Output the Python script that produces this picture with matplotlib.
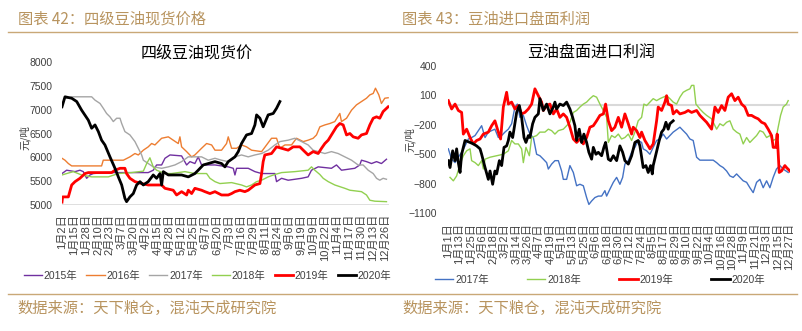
import matplotlib
matplotlib.use("Agg")
import matplotlib.pyplot as plt
from matplotlib.lines import Line2D

plt.rcParams['font.family'] = ['Liberation Sans', 'Noto Sans CJK SC']

# ---------------- data: left chart (四级豆油现货价, 元/吨) ----------------
# x = position measured in tick-label units (0 = 1月2日, 27 = 12月26日)
left_labels = ['1月2日', '1月15日', '1月28日', '2月10日', '2月23日', '3月7日', '3月20日',
               '4月2日', '4月15日', '4月28日', '5月12日', '5月25日', '6月7日', '6月20日',
               '7月3日', '7月16日', '7月29日', '8月11日', '8月24日', '9月6日', '9月19日',
               '10月9日', '10月22日', '11月4日', '11月17日', '11月30日', '12月13日', '12月26日']
left_yticks = [5000, 5500, 6000, 6500, 7000, 7500, 8000]

spot_2015 = [(0, 5660), (0.39, 5730), (1.09, 5700), (1.50, 5730), (1.78, 5700), (2.06, 5560),
             (2.34, 5630), (2.62, 5660), (3.59, 5680), (7.21, 5680), (7.63, 5730), (7.91, 5840),
             (8.33, 5840), (8.61, 5980), (9.03, 6050), (10.00, 6030), (10.42, 5840), (10.70, 5910),
             (11.11, 5870), (11.39, 6010), (11.67, 5840), (12.79, 5840), (13.90, 5800), (14.32, 5770),
             (14.46, 5630), (14.60, 5770), (15.57, 5770), (16.13, 5700), (16.69, 5660), (17.80, 5660),
             (17.94, 5490), (18.36, 5560), (18.91, 5520), (20.03, 5560), (20.58, 5590), (20.86, 5730),
             (21.42, 5800), (22.53, 5770), (22.95, 5840), (23.37, 5730), (24.48, 5770), (24.90, 5840),
             (25.04, 5940), (25.46, 5910), (25.88, 5870), (26.30, 5910), (26.71, 5870), (27.13, 5960)]
spot_2016 = [(0, 5980), (0.25, 5940), (0.53, 5870), (0.81, 5820), (3.31, 5820), (3.45, 5940),
             (5.13, 5940), (5.68, 6010), (6.10, 6080), (6.38, 6050), (6.80, 6150), (7.21, 6220),
             (7.49, 6290), (7.77, 6260), (8.33, 6400), (8.89, 6430), (9.30, 6360), (9.72, 6290),
             (9.86, 6430), (10.00, 6220), (10.42, 6120), (10.84, 6010), (11.11, 6050), (11.39, 6120),
             (11.67, 6190), (12.09, 6290), (12.51, 6260), (12.79, 6150), (13.34, 6150), (13.76, 6290),
             (13.90, 6430), (14.18, 6190), (14.60, 6190), (15.01, 6260), (15.43, 6220), (15.85, 6150),
             (16.69, 6120), (17.52, 6400), (17.94, 6400), (18.22, 6190), (18.64, 6260), (19.19, 6260),
             (19.61, 6400), (20.17, 6330), (20.58, 6360), (21.00, 6400), (21.28, 6470), (21.56, 6640),
             (21.98, 6680), (22.40, 6710), (22.81, 6750), (23.23, 6920), (23.37, 6750), (23.79, 6820),
             (24.21, 6990), (24.62, 7100), (25.04, 7170), (25.46, 7240), (25.74, 7310), (26.02, 7340),
             (26.21, 7450), (26.49, 7310), (26.71, 7130), (26.99, 7240), (27.27, 7250)]
spot_2017 = [(0.39, 7240), (0.81, 7270), (2.48, 7270), (2.76, 7200), (3.18, 7130), (3.45, 7030),
             (3.73, 6920), (4.01, 6850), (4.29, 6750), (4.57, 6820), (4.85, 6820), (4.99, 6710),
             (5.26, 6540), (5.68, 6470), (6.10, 6330), (6.38, 6190), (6.66, 6050), (6.80, 5940),
             (7.21, 5870), (7.63, 5800), (8.33, 5770), (8.89, 5800), (9.44, 5840), (10.00, 5910),
             (10.56, 6010), (11.67, 6010), (12.23, 5940), (12.79, 5980), (13.34, 5940), (13.90, 5910),
             (14.46, 6010), (15.01, 6050), (15.57, 6010), (16.13, 6050), (16.69, 6080), (17.24, 6150),
             (17.80, 6260), (18.22, 6330), (18.91, 6360), (19.47, 6400), (20.03, 6330), (20.58, 6260),
             (21.00, 6150), (21.42, 6120), (21.98, 6080), (22.53, 6120), (23.09, 6080), (23.65, 6010),
             (24.21, 5940), (24.76, 5840), (25.18, 5840), (25.60, 5730), (26.02, 5660), (26.30, 5560),
             (26.57, 5520), (26.85, 5560), (27.13, 5540)]
spot_2018 = [(0, 5630), (0.39, 5660), (0.95, 5700), (1.64, 5630), (2.48, 5590), (3.87, 5590),
             (4.71, 5660), (5.82, 5680), (6.80, 5710), (7.08, 5870), (7.35, 5990), (7.63, 5800),
             (7.91, 5730), (8.61, 5660), (9.16, 5660), (10.28, 5700), (11.11, 5660), (12.09, 5660),
             (12.37, 5560), (12.79, 5490), (13.20, 5450), (14.18, 5470), (15.01, 5420), (15.43, 5380),
             (15.85, 5420), (16.27, 5490), (16.69, 5520), (17.24, 5590), (17.80, 5640), (18.36, 5680),
             (19.47, 5700), (20.58, 5730), (20.86, 5800), (21.14, 5730), (21.56, 5640), (21.84, 5560),
             (22.26, 5490), (22.81, 5420), (23.65, 5350), (24.07, 5310), (25.04, 5280), (25.46, 5210),
             (25.74, 5100), (26.16, 5080), (27.13, 5070)]
spot_2019 = [(0, 5060), (0.05, 5170), (0.53, 5170), (0.81, 5420), (1.09, 5490), (1.50, 5560),
             (1.92, 5660), (2.20, 5680), (4.15, 5680), (4.43, 5730), (4.85, 5770), (5.26, 5770),
             (5.40, 5660), (5.68, 5560), (6.10, 5490), (6.66, 5450), (7.21, 5420), (8.33, 5420),
             (8.61, 5350), (9.30, 5310), (9.58, 5210), (10.00, 5280), (10.42, 5210), (10.56, 5310),
             (10.84, 5240), (11.11, 5350), (11.67, 5310), (11.95, 5280), (12.37, 5240), (12.79, 5280),
             (13.34, 5210), (13.90, 5210), (14.18, 5240), (14.46, 5280), (14.87, 5310), (15.29, 5280),
             (15.57, 5310), (16.13, 5420), (16.55, 5450), (16.69, 5660), (16.82, 5910), (16.96, 6050),
             (17.52, 6080), (17.94, 6220), (18.36, 6190), (18.91, 6150), (19.33, 6220), (19.89, 6220),
             (20.17, 6150), (20.58, 6050), (21.00, 6120), (21.42, 6080), (21.70, 6190), (21.98, 6290),
             (22.26, 6360), (22.53, 6470), (22.95, 6640), (23.23, 6710), (23.51, 6680), (23.79, 6470),
             (24.07, 6500), (24.35, 6430), (24.76, 6400), (25.04, 6470), (25.46, 6500), (25.74, 6680),
             (26.02, 6820), (26.30, 6850), (26.57, 6820), (26.85, 6960), (27.27, 7060)]
spot_2020 = [(0, 7060), (0.25, 7270), (0.81, 7240), (1.23, 7170), (1.64, 6990), (2.20, 6780),
             (2.48, 6610), (2.76, 6680), (3.04, 6540), (3.31, 6360), (3.59, 6260), (4.01, 6010),
             (4.43, 5770), (4.71, 5590), (4.99, 5420), (5.26, 5140), (5.40, 5070), (5.68, 5170),
             (5.96, 5240), (6.24, 5420), (6.52, 5490), (6.80, 5420), (7.21, 5490), (7.63, 5630),
             (7.91, 5560), (8.19, 5660), (8.33, 5420), (8.47, 5700), (8.89, 5630), (9.44, 5630),
             (10.00, 5630), (10.56, 5590), (11.11, 5660), (11.39, 5730), (11.81, 5840), (12.23, 5870),
             (12.79, 5910), (13.34, 5870), (13.62, 5800), (13.90, 5910), (14.46, 6010), (14.74, 6120),
             (15.01, 6290), (15.43, 6470), (15.85, 6500), (16.13, 6680), (16.27, 6890), (16.55, 6820),
             (16.82, 6640), (17.24, 6890), (17.66, 6920), (17.94, 7030), (18.22, 7170)]

# ---------------- data: right chart (豆油盘面进口利润, 元/吨) ----------------
# x = position measured in tick-label units (0 = 1月1日, 30 = 12月27日)
right_labels = ['1月1日', '1月13日', '1月25日', '2月6日', '2月18日', '3月2日', '3月14日', '3月26日',
                '4月7日', '4月19日', '5月1日', '5月13日', '5月25日', '6月6日', '6月18日', '6月30日',
                '7月12日', '7月24日', '8月5日', '8月17日', '8月29日', '9月10日', '9月22日', '10月4日',
                '10月16日', '10月28日', '11月9日', '11月21日', '12月3日', '12月15日', '12月27日']
right_yticks = [-1100, -800, -500, -200, 100, 400]

profit_2017 = [(0.03, -445), (0.32, -550), (0.62, -585), (0.91, -530), (1.20, -480), (1.50, -415),
               (1.79, -345), (2.08, -330), (2.38, -310), (2.67, -260), (2.96, -210), (3.26, -330),
               (3.55, -275), (3.84, -260), (4.13, -245), (4.43, -330), (4.72, -310), (5.01, -275),
               (5.31, -245), (5.60, -190), (5.89, -20), (6.10, 10), (6.33, -125), (6.63, -105),
               (6.92, -210), (7.21, -295), (7.51, -330), (7.80, -500), (8.09, -515), (8.39, -550),
               (8.68, -585), (8.83, -650), (9.12, -600), (9.41, -565), (9.71, -565), (10.00, -670),
               (10.15, -755), (10.44, -755), (10.73, -615), (11.03, -685), (11.32, -820), (11.61, -805),
               (11.91, -820), (12.20, -940), (12.40, -1010), (12.64, -975), (12.93, -940), (13.23, -925),
               (13.52, -925), (13.81, -870), (13.96, -925), (14.25, -855), (14.55, -785), (14.84, -735),
               (15.13, -805), (15.37, -735), (15.57, -600), (15.87, -565), (16.16, -480), (16.45, -430),
               (16.74, -360), (17.04, -380), (17.18, -445), (17.48, -465), (17.77, -500), (18.06, -430),
               (18.36, -360), (18.65, -345), (18.94, -295), (19.24, -345), (19.53, -310), (19.82, -275),
               (20.18, -245), (20.41, -225), (20.70, -260), (21.00, -295), (21.29, -345), (21.58, -360),
               (21.88, -530), (22.17, -560), (23.34, -560), (23.64, -585), (23.93, -615), (24.22, -635),
               (24.52, -670), (24.81, -720), (25.10, -735), (25.40, -700), (25.69, -735), (25.98, -770),
               (26.28, -785), (26.57, -840), (26.86, -890), (27.16, -785), (27.45, -755), (27.74, -840),
               (28.04, -770), (28.33, -840), (28.62, -735), (28.91, -650), (29.21, -615), (29.50, -650),
               (29.94, -685)]
profit_2018 = [(0.18, -735), (0.47, -770), (0.76, -720), (1.06, -600), (1.35, -515), (1.64, -465),
               (1.94, -445), (2.08, -565), (2.38, -585), (2.67, -615), (2.96, -565), (3.11, -650),
               (3.26, -550), (3.70, -530), (4.28, -515), (4.87, -500), (5.31, -465), (5.60, -360),
               (5.89, -395), (6.19, -395), (6.48, -445), (6.63, -585), (6.86, -430), (7.16, -515),
               (7.36, -330), (7.80, -310), (8.09, -275), (8.53, -275), (8.83, -245), (9.12, -260),
               (9.41, -295), (9.71, -260), (10.15, -245), (10.44, -210), (10.73, -175), (11.03, -75),
               (11.32, -55), (11.61, -20), (11.91, 10), (12.20, 30), (12.49, 65), (12.79, 95),
               (13.08, 80), (13.37, 10), (13.67, -55), (13.96, -125), (14.11, -380), (14.40, -310),
               (14.69, -330), (14.99, -295), (15.28, -345), (15.57, -330), (15.87, -295), (16.16, -360),
               (16.45, -275), (16.74, -160), (17.04, -125), (17.24, 10), (17.48, -5), (17.77, 30),
               (18.06, 65), (18.36, 45), (18.65, 65), (18.94, 80), (19.24, 95), (19.53, 65),
               (19.82, 30), (20.12, 10), (20.41, 80), (20.70, 130), (21.00, 150), (21.29, 165),
               (21.44, 200), (21.64, 200), (21.82, 10), (22.17, -40), (22.46, -75), (22.76, -105),
               (23.20, -140), (23.64, -245), (23.93, -190), (24.22, -210), (24.52, -175), (24.81, -160),
               (25.10, -245), (25.40, -275), (25.69, -295), (25.98, -395), (26.28, -330), (26.57, -380),
               (26.86, -345), (27.16, -310), (27.45, -260), (27.74, -275), (28.04, -330), (28.33, -310),
               (28.62, -360), (28.86, -345), (29.06, -225), (29.27, -105), (29.50, -20), (29.79, 10),
               (29.94, 45)]
profit_2019 = [(0.03, 45), (0.32, -40), (0.62, 10), (0.91, -55), (1.20, -75), (1.35, -295),
               (1.64, -245), (1.94, -330), (2.23, -395), (2.52, -360), (2.82, -345), (3.11, -295),
               (3.55, -275), (3.84, -210), (4.13, -160), (4.43, -275), (4.63, -345), (4.87, -20),
               (5.16, 130), (5.31, 10), (5.60, 30), (5.89, -40), (6.19, -5), (6.48, -90),
               (6.77, -75), (7.07, -40), (7.36, 10), (7.65, 165), (7.95, 95), (8.24, 30),
               (8.39, -55), (8.68, -5), (8.97, 10), (9.27, -90), (9.56, -40), (9.85, -125),
               (10.15, -90), (10.44, -125), (10.73, -225), (11.03, -345), (11.32, -380), (11.61, -345),
               (11.91, -395), (12.20, -330), (12.49, -225), (12.79, -210), (13.08, -160), (13.37, -105),
               (13.67, -90), (13.87, 10), (14.11, -160), (14.40, -260), (14.69, -225), (14.99, -125),
               (15.28, -225), (15.57, -90), (15.87, -190), (16.16, -295), (16.30, -225), (16.60, -260),
               (16.89, -330), (17.04, -275), (17.33, -360), (17.62, -415), (17.77, -445), (18.06, -395),
               (18.36, -160), (18.50, -20), (18.80, -55), (19.09, 30), (19.24, 95), (19.38, 10),
               (19.68, -5), (19.82, -90), (20.12, -55), (20.41, -90), (20.85, -75), (21.14, -55),
               (21.44, -75), (21.88, -55), (22.17, -105), (22.46, -140), (22.76, -175), (23.20, -245),
               (23.49, -20), (23.78, -75), (24.08, -5), (24.37, -55), (24.66, 80), (24.96, 115),
               (25.25, 45), (25.54, 80), (25.84, 10), (26.13, -20), (26.42, -105), (26.72, -105),
               (27.01, -125), (27.30, -140), (27.60, -175), (27.89, -190), (28.18, -245), (28.48, -310),
               (28.62, -430), (28.86, -430), (28.97, -295), (29.15, -685), (29.35, -670), (29.65, -615),
               (29.79, -635), (30.09, -670)]
profit_2020 = [(0.03, -565), (0.18, -635), (0.41, -465), (0.62, -565), (0.76, -445), (0.91, -585),
               (1.06, -685), (1.20, -500), (1.50, -360), (1.94, -380), (2.23, -395), (2.52, -415),
               (2.82, -445), (2.96, -500), (3.26, -635), (3.55, -755), (3.70, -670), (3.93, -805),
               (4.13, -670), (4.28, -700), (4.52, -565), (4.72, -615), (4.93, -430), (5.16, -415),
               (5.31, -360), (5.45, -275), (5.69, -330), (5.81, -245), (6.04, -75), (6.28, -5),
               (6.48, -125), (6.69, -330), (6.86, -380), (7.07, -310), (7.21, -330), (7.45, -190),
               (7.65, -125), (7.95, -90), (8.09, 65), (8.39, -55), (8.68, 10), (8.97, -90),
               (9.27, -20), (9.41, 30), (9.56, -40), (9.85, 10), (10.15, -5), (10.44, 30),
               (10.73, -40), (10.97, -125), (11.17, -210), (11.32, -360), (11.55, -245), (11.76, -380),
               (11.96, -295), (12.20, -380), (12.40, -480), (12.64, -550), (12.79, -430), (13.02, -500),
               (13.23, -480), (13.52, -515), (13.72, -430), (13.87, -380), (14.11, -550), (14.31, -565),
               (14.55, -515), (14.84, -565), (15.13, -415), (15.37, -480), (15.57, -565), (15.87, -600),
               (16.16, -515), (16.45, -380), (16.74, -360), (16.89, -415), (17.18, -635), (17.42, -615),
               (17.62, -685), (17.83, -615), (17.98, -700), (18.06, -615), (18.30, -500), (18.59, -360),
               (18.80, -275), (19.00, -245), (19.18, -175), (19.38, -245), (19.53, -190), (19.82, -160)]

# ---------------- styling ----------------
GOLD = '#B8945F'
RULE = '#C9A877'
TICK = '#404040'
GRID = '#D9D9D9'
CJK = ['Noto Sans CJK SC', 'DejaVu Sans']

W, H = 802, 331
fig = plt.figure(figsize=(W / 100, H / 100), dpi=100)


def fx(px):
    return px / W


def fy(py):
    return 1 - py / H


def draw_series(ax, pts, **kw):
    xs = [p[0] for p in pts]
    ys = [p[1] for p in pts]
    return ax.plot(xs, ys, solid_joinstyle='round', **kw)[0]


# ---- left axes ----
axL = fig.add_axes([fx(62), fy(205), fx(388.5) - fx(62), fy(62) - fy(205)])
axL.set_xlim(0, 27.3)
axL.set_ylim(5000, 8000)
axL.axhline(5000, color=GRID, lw=1.2, zorder=1)
left_series = [('2015年', spot_2015, '#7030A0', 1.0),
               ('2016年', spot_2016, '#ED7D31', 1.0),
               ('2017年', spot_2017, '#A5A5A5', 1.0),
               ('2018年', spot_2018, '#92D050', 1.0),
               ('2019年', spot_2019, '#FF0000', 2.0),
               ('2020年', spot_2020, '#000000', 2.0)]
hL = []
for name, pts, c, lw in left_series:
    hL.append(draw_series(axL, pts, color=c, lw=lw, label=name, zorder=3))
axL.set_yticks(left_yticks)
axL.set_yticklabels([str(v) for v in left_yticks], fontsize=7.5, color=TICK)
axL.set_xticks(range(len(left_labels)))
axL.set_xticklabels(left_labels, rotation=90, fontsize=8, color=TICK, va='top', ha='center')
axL.tick_params(axis='both', length=0)
axL.tick_params(axis='y', pad=7)
axL.tick_params(axis='x', pad=6.5)
for s in axL.spines.values():
    s.set_visible(False)
axL.patch.set_alpha(0)

# ---- right axes ----
axR = fig.add_axes([fx(448), fy(213.3), fx(790) - fx(448), fy(65.7) - fy(213.3)])
axR.set_xlim(0, 30.1)
axR.set_ylim(-1100, 400)
axR.axhline(0, color=GRID, lw=1.5, zorder=1)
right_series = [('2017年', profit_2017, '#4472C4', 1.0),
                ('2018年', profit_2018, '#92D050', 1.0),
                ('2019年', profit_2019, '#FF0000', 2.0),
                ('2020年', profit_2020, '#000000', 2.0)]
hR = []
for name, pts, c, lw in right_series:
    hR.append(draw_series(axR, pts, color=c, lw=lw, label=name, zorder=3))
axR.set_yticks(right_yticks)
axR.set_yticklabels([str(v).replace('-', '\u2212') for v in right_yticks], fontsize=7.5, color=TICK)
axR.set_xticks(range(len(right_labels)))
axR.set_xticklabels(right_labels, rotation=90, fontsize=8, color=TICK, va='top', ha='center')
axR.tick_params(axis='both', length=0)
axR.tick_params(axis='y', pad=8)
axR.tick_params(axis='x', pad=7)
for s in axR.spines.values():
    s.set_visible(False)
axR.patch.set_alpha(0)

# ---- y-axis unit labels ----
fig.text(fx(25), fy(138), '元/吨', rotation=90, ha='center', va='center', fontsize=7.5, color=TICK, family=CJK)
fig.text(fx(410), fy(140), '元/吨', rotation=90, ha='center', va='center', fontsize=7.5, color=TICK, family=CJK)

# ---- chart titles ----
fig.text(fx(197), fy(53), '四级豆油现货价', ha='center', va='center', fontsize=11.5, color='black', family=CJK)
fig.text(fx(591), fy(53), '豆油盘面进口利润', ha='center', va='center', fontsize=11.5, color='black', family=CJK)

# ---- headers / footers ----
fig.text(fx(18), fy(19), '图表 42：四级豆油现货价格', ha='left', va='center', fontsize=11, color=GOLD, family=CJK)
fig.text(fx(402), fy(19), '图表 43：豆油进口盘面利润', ha='left', va='center', fontsize=11, color=GOLD, family=CJK)
fig.text(fx(17), fy(308), '数据来源：天下粮仓，混沌天成研究院', ha='left', va='center', fontsize=11, color=GOLD, family=CJK)
fig.text(fx(402), fy(308), '数据来源：天下粮仓，混沌天成研究院', ha='left', va='center', fontsize=11, color=GOLD, family=CJK)

for yy in (32, 294):
    fig.add_artist(Line2D([fx(8), fx(797)], [fy(yy), fy(yy)], color=RULE, lw=1.0))

# ---- legends ----
fig.legend(handles=hL, loc='center', bbox_to_anchor=(fx(207.5), fy(276)), ncol=6, frameon=False,
           fontsize=7.5, handlelength=1.75, handletextpad=0.15, columnspacing=0.9,
           labelcolor=TICK, borderaxespad=0, borderpad=0)
fig.legend(handles=hR, loc='center', bbox_to_anchor=(fx(600), fy(280)), ncol=4, frameon=False,
           fontsize=7.5, handlelength=1.75, handletextpad=0.15, columnspacing=3.7,
           labelcolor=TICK, borderaxespad=0, borderpad=0)

fig.savefig('out.png', dpi=100)
